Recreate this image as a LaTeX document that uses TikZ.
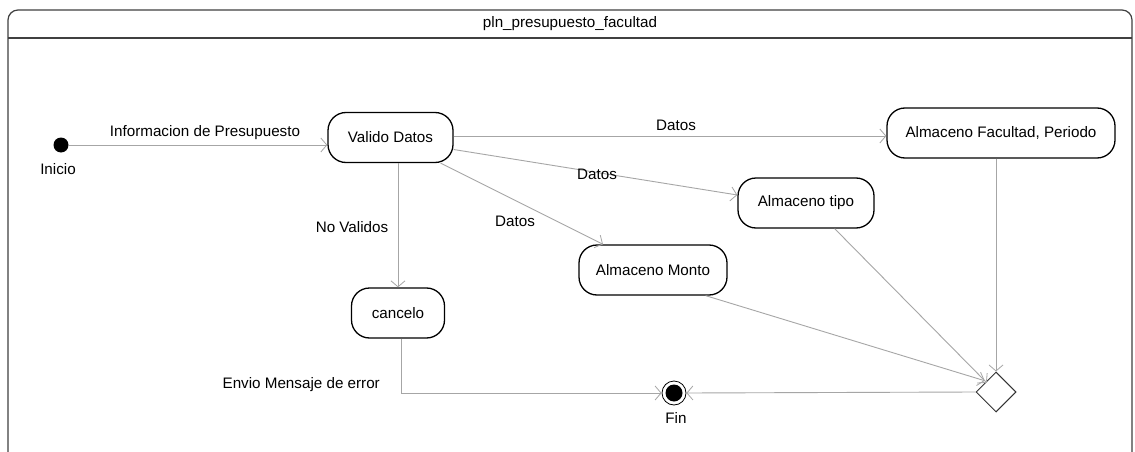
\documentclass[tikz,border=0pt]{standalone}
\usepackage{fontspec}
\setmainfont{Liberation Sans}
\usetikzlibrary{arrows.meta,shapes.geometric}

\begin{document}
\begin{tikzpicture}[x=1pt,y=-1pt,
  font=\fontsize{15.2}{18}\selectfont,
  state/.style={draw=black, line width=1.3pt, rounded corners=18pt, fill=white,
    minimum height=50pt, inner sep=0pt},
  flow/.style={draw=black!35, line width=0.9pt,
    -{Straight Barb[length=6pt,width=14pt,line width=0.8pt]}},
  lbl/.style={inner sep=1pt}]
\useasboundingbox (0,0) rectangle (1135,452);
\fill[white] (0,0) rectangle (1135,452);

% activity frame with its title band
\begin{scope}
  \clip (0,0) rectangle (1135,452);
  \draw[line width=1.2pt, black!75, rounded corners=10pt]
    (8,470) -- (8,10) -- (1132,10) -- (1132,470);
  \draw[line width=1.2pt, black!75] (8,38) -- (1132,38);
\end{scope}
\node[lbl] (title) at (570,24) {pln\_presupuesto\_facultad};

% states
\node[circle, fill=black, minimum size=15pt, inner sep=0pt] (ini) at (61,145) {};
\node[lbl] (inilbl) at (58,169) {Inicio};
\node[state, minimum width=125pt] (valido) at (390.5,137.5) {Valido Datos};
\node[state, minimum width=228pt] (facultad) at (1001,133) {Almaceno Facultad, Periodo};
\node[state, minimum width=136pt] (tipo) at (806,203) {Almaceno tipo};
\node[state, minimum width=148pt] (monto) at (653,270) {Almaceno Monto};
\node[state, minimum width=93pt] (cancelo) at (398,313) {cancelo};
\node[diamond, draw=black!80, line width=1pt, fill=white, minimum width=40pt,
      minimum height=40pt, inner sep=0pt] (dec) at (996,392) {};
\node[circle, draw=black, line width=0.8pt, minimum size=24pt, inner sep=0pt] (fin) at (674,393) {};
\fill[black] (fin.center) circle (8.5pt);
\node[lbl] (finlbl) at (676,418) {Fin};

% transitions
\draw[flow] (ini) -- (ini -| valido.west);
\draw[flow] (valido.east |- 0,136) -- (facultad.west |- 0,136);
\draw[flow] ([yshift=-12pt]valido.east) -- ([yshift=8pt]tipo.west);
\draw[flow] ([xshift=-13pt]valido.south east) -- ([xshift=-50pt]monto.north);
\draw[flow] (valido.south -| cancelo) -- (cancelo.north);
\draw[flow] ([xshift=3pt]cancelo.south) |- (fin.west);
\draw[flow] ([xshift=-22pt]monto.south east) -- ([shift={(-1pt,1pt)}]dec.north west);
\draw[flow] ([xshift=-40pt]tipo.south east) -- ([shift={(1pt,-1pt)}]dec.north west);
\draw[flow] (facultad.south -| dec.north) -- (dec.north);
\draw[flow] (dec.west) -- (fin.east);

% transition labels
\node[lbl] (l1) at (205,133) {Informacion de Presupuesto};
\node[lbl] (l2) at (676,125) {Datos};
\node[lbl] (l3) at (597,174) {Datos};
\node[lbl] (l4) at (515,221) {Datos};
\node[lbl] (l5) at (352,227) {No Validos};
\node[lbl, anchor=east] (l6) at (381,385) {Envio Mensaje de error};
\end{tikzpicture}
\end{document}
